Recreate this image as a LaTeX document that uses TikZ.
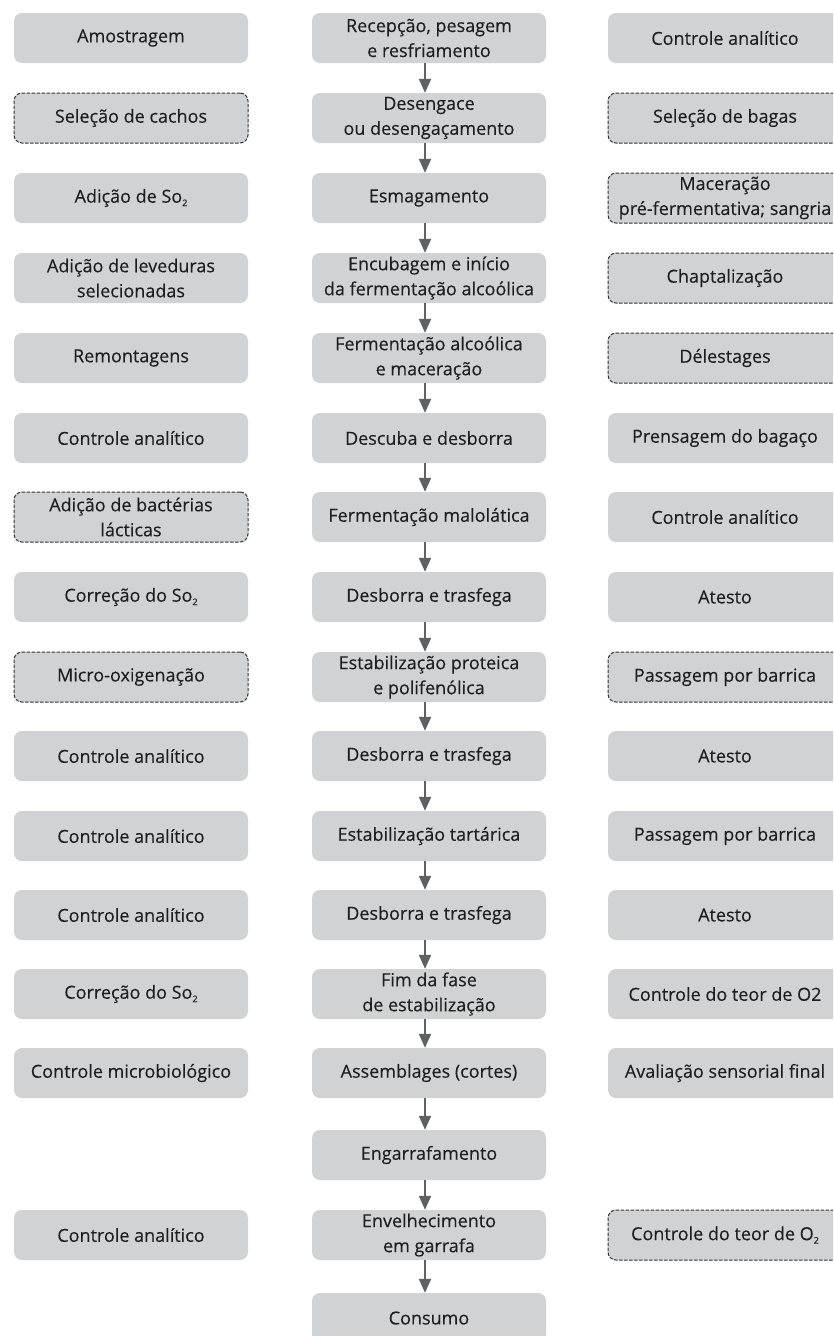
\documentclass[tikz,border=0pt]{standalone}
\usepackage{fontspec}
\setmainfont[FakeBold=0.2]{Open Sans}
\usetikzlibrary{arrows.meta}
\definecolor{boxfill}{HTML}{D1D2D4}
\definecolor{txtc}{HTML}{1E1E1E}
\definecolor{arrc}{HTML}{5F6062}
\definecolor{dashc}{HTML}{333335}
\newcommand{\subtwo}{\raisebox{-0.35ex}{\fontsize{9}{9}\selectfont 2}}
\tikzset{
  box/.style={rectangle, rounded corners=8pt, fill=boxfill, minimum width=234pt,
    minimum height=50pt, inner sep=0pt, align=center,
    font=\fontsize{18}{25}\selectfont, text=txtc},
  dbox/.style={box, draw=dashc, line width=1pt, dash pattern=on 3.5pt off 1.5pt},
  arr/.style={draw=arrc, line width=2pt, -{Triangle[length=14pt,width=12pt]}},
}
\begin{document}
\begin{tikzpicture}[x=1pt,y=-1pt]
\clip (0,0) rectangle (833,1336);
\fill[white] (0,0) rectangle (833,1336);
% left column
\node[box]  (l1)  at (131,38)   {Amostragem};
\node[dbox] (l2)  at (131,118)  {Seleção de cachos};
\node[box]  (l3)  at (131,198)  {Adição de So\subtwo};
\node[box]  (l4)  at (131,278)  {Adição de leveduras\\selecionadas};
\node[box]  (l5)  at (131,358)  {Remontagens};
\node[box]  (l6)  at (131,438)  {Controle analítico};
\node[dbox] (l7)  at (131,517)  {Adição de bactérias\\lácticas};
\node[box]  (l8)  at (131,597)  {Correção do So\subtwo};
\node[dbox] (l9)  at (131,677)  {Micro-oxigenação};
\node[box]  (l10) at (131,756)  {Controle analítico};
\node[box]  (l11) at (131,836)  {Controle analítico};
\node[box]  (l12) at (131,915)  {Controle analítico};
\node[box]  (l13) at (131,994)  {Correção do So\subtwo};
\node[box]  (l14) at (131,1073) {Controle microbiológico};
\node[box]  (l16) at (131,1235) {Controle analítico};
% middle column
\node[box] (m1)  at (429,38)   {Recepção, pesagem\\e resfriamento};
\node[box] (m2)  at (429,118)  {Desengace\\ou desengaçamento};
\node[box] (m3)  at (429,198)  {Esmagamento};
\node[box] (m4)  at (429,278)  {Encubagem e início\\da fermentação alcoólica};
\node[box] (m5)  at (429,358)  {Fermentação alcoólica\\e maceração};
\node[box] (m6)  at (429,438)  {Descuba e desborra};
\node[box] (m7)  at (429,517)  {Fermentação malolática};
\node[box] (m8)  at (429,597)  {Desborra e trasfega};
\node[box] (m9)  at (429,677)  {Estabilização proteica\\e polifenólica};
\node[box] (m10) at (429,756)  {Desborra e trasfega};
\node[box] (m11) at (429,836)  {Estabilização tartárica};
\node[box] (m12) at (429,915)  {Desborra e trasfega};
\node[box] (m13) at (429,994)  {Fim da fase\\de estabilização};
\node[box] (m14) at (429,1073) {Assemblages (cortes)};
\node[box] (m15) at (429,1155) {Engarrafamento};
\node[box] (m16) at (429,1235) {Envelhecimento\\em garrafa};
\node[box] (m17) at (429,1318) {Consumo};
% right column
\node[box]  (r1)  at (725,38)   {Controle analítico};
\node[dbox] (r2)  at (725,118)  {Seleção de bagas};
\node[dbox] (r3)  at (725,198)  {Maceração\\pré-fermentativa; sangria};
\node[dbox] (r4)  at (725,278)  {Chaptalização};
\node[dbox] (r5)  at (725,358)  {Délestages};
\node[box]  (r6)  at (725,438)  {Prensagem do bagaço};
\node[box]  (r7)  at (725,517)  {Controle analítico};
\node[box]  (r8)  at (725,597)  {Atesto};
\node[dbox] (r9)  at (725,677)  {Passagem por barrica};
\node[box]  (r10) at (725,756)  {Atesto};
\node[box]  (r11) at (725,836)  {Passagem por barrica};
\node[box]  (r12) at (725,915)  {Atesto};
\node[box]  (r13) at (725,994)  {Controle do teor de O2};
\node[box]  (r14) at (725,1073) {Avaliação sensorial final};
\node[dbox] (r16) at (725,1235) {Controle do teor de O\subtwo};
% arrows
\foreach \a/\b in {1/2,2/3,3/4,4/5,5/6,6/7,7/8,8/9,9/10,10/11,11/12,12/13,13/14,14/15,15/16,16/17}
  \draw[arr] ([xshift=-4pt]m\a.south) -- ([xshift=-4pt]m\b.north);
\end{tikzpicture}
\end{document}
